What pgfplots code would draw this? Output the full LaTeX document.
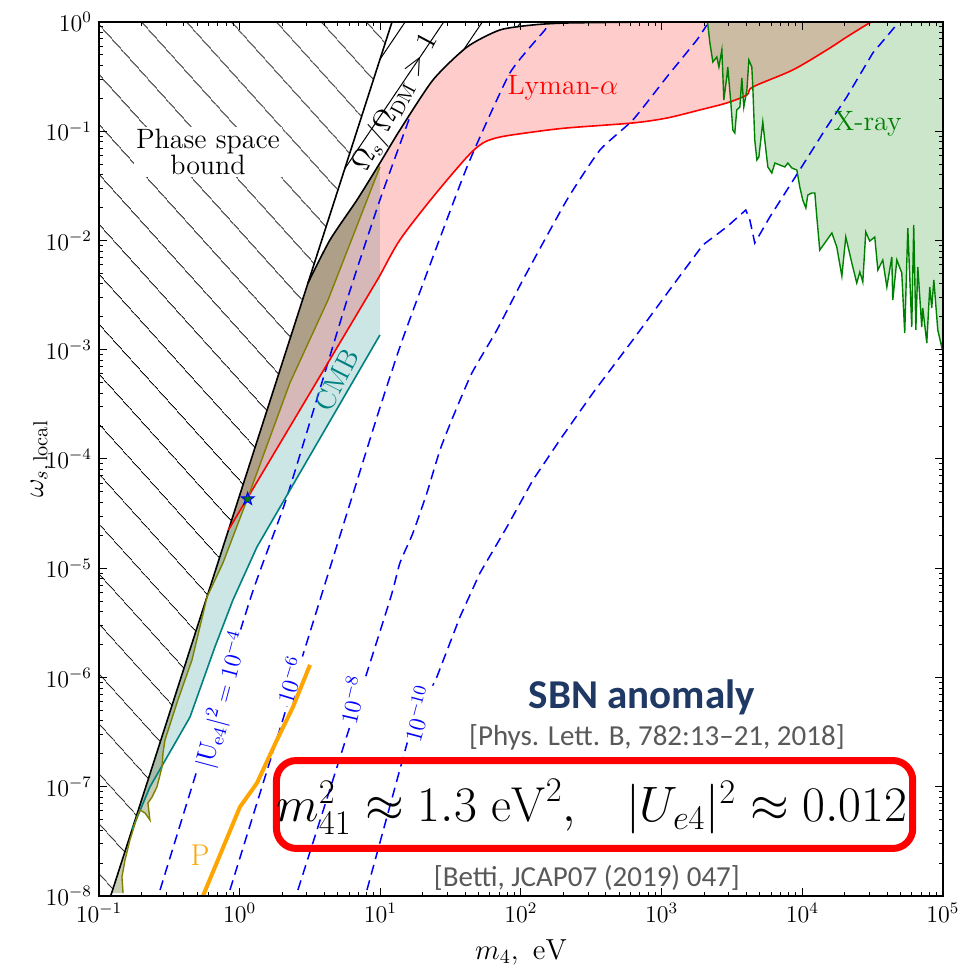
\documentclass[border=0pt]{standalone}
\usepackage{fontspec}
\newfontfamily\carlito{Carlito}
\usepackage{pgfplots}
\pgfplotsset{compat=1.18}
\usetikzlibrary{patterns.meta}
\definecolor{mplgreen}{RGB}{0,128,0}
\definecolor{mplteal}{RGB}{0,128,128}
\definecolor{mplolive}{RGB}{100,115,50}
\definecolor{mplolive2}{RGB}{128,128,0}
\definecolor{mplorange}{RGB}{255,165,0}
\definecolor{sbnnavy}{RGB}{31,56,100}
\definecolor{refgray}{RGB}{89,89,89}
\pgfdeclareplotmark{fstar}{%
  \pgfpathmoveto{\pgfpointpolar{90}{\pgfplotmarksize}}%
  \pgfpathlineto{\pgfpointpolar{126}{0.4\pgfplotmarksize}}%
  \pgfpathlineto{\pgfpointpolar{162}{\pgfplotmarksize}}%
  \pgfpathlineto{\pgfpointpolar{198}{0.4\pgfplotmarksize}}%
  \pgfpathlineto{\pgfpointpolar{234}{\pgfplotmarksize}}%
  \pgfpathlineto{\pgfpointpolar{270}{0.4\pgfplotmarksize}}%
  \pgfpathlineto{\pgfpointpolar{306}{\pgfplotmarksize}}%
  \pgfpathlineto{\pgfpointpolar{342}{0.4\pgfplotmarksize}}%
  \pgfpathlineto{\pgfpointpolar{18}{\pgfplotmarksize}}%
  \pgfpathlineto{\pgfpointpolar{54}{0.4\pgfplotmarksize}}%
  \pgfpathclose\pgfusepathqfillstroke}
\begin{document}
\begin{tikzpicture}
\begin{axis}[
  at={(0,0)}, anchor=south west,
  scale only axis, width=422pt, height=437pt,
  xmin=-1, xmax=5, ymin=-8, ymax=0,
  xtick={-1,0,1,2,3,4,5},
  xticklabels={$10^{-1}$,$10^{0}$,$10^{1}$,$10^{2}$,$10^{3}$,$10^{4}$,$10^{5}$},
  ytick={-8,-7,-6,-5,-4,-3,-2,-1,0},
  yticklabels={$10^{-8}$,$10^{-7}$,$10^{-6}$,$10^{-5}$,$10^{-4}$,$10^{-3}$,$10^{-2}$,$10^{-1}$,$10^{0}$},
  minor xtick={-0.69897,-0.52288,-0.39794,-0.30103,-0.22185,-0.15490,-0.09691,-0.04576,
    0.30103,0.47712,0.60206,0.69897,0.77815,0.84510,0.90309,0.95424,
    1.30103,1.47712,1.60206,1.69897,1.77815,1.84510,1.90309,1.95424,
    2.30103,2.47712,2.60206,2.69897,2.77815,2.84510,2.90309,2.95424,
    3.30103,3.47712,3.60206,3.69897,3.77815,3.84510,3.90309,3.95424,
    4.30103,4.47712,4.60206,4.69897,4.77815,4.84510,4.90309,4.95424},
  minor ytick={-7.69897,-7.52288,-7.39794,-7.30103,-7.22185,-7.15490,-7.09691,-7.04576,
    -6.69897,-6.52288,-6.39794,-6.30103,-6.22185,-6.15490,-6.09691,-6.04576,
    -5.69897,-5.52288,-5.39794,-5.30103,-5.22185,-5.15490,-5.09691,-5.04576,
    -4.69897,-4.52288,-4.39794,-4.30103,-4.22185,-4.15490,-4.09691,-4.04576,
    -3.69897,-3.52288,-3.39794,-3.30103,-3.22185,-3.15490,-3.09691,-3.04576,
    -2.69897,-2.52288,-2.39794,-2.30103,-2.22185,-2.15490,-2.09691,-2.04576,
    -1.69897,-1.52288,-1.39794,-1.30103,-1.22185,-1.15490,-1.09691,-1.04576,
    -0.69897,-0.52288,-0.39794,-0.30103,-0.22185,-0.15490,-0.09691,-0.04576},
  tick align=inside, tick pos=both,
  major tick length=4pt, minor tick length=2pt,
  every tick/.style={black, line width=0.5pt},
  axis line style={black, line width=0.7pt},
  ticklabel style={font=\fontsize{12}{14}\selectfont},
  xlabel={$m_4,\ \mathrm{eV}$},
  ylabel={$\omega_{s,\,\mathrm{local}}$},
  label style={font=\fontsize{14.5}{16}\selectfont},
  xlabel style={at={([yshift=-28pt]axis description cs:0.5,0)}, anchor=center},
  ylabel style={at={([xshift=-29pt]axis description cs:0,0.5)}, anchor=center},
  clip=false, axis on top,
]
% ---- phase space bound (hatched) ----
\addplot[draw=none, pattern={Lines[angle=-48,distance=17pt,line width=0.5pt]}, pattern color=black]
  coordinates {(-1,-8) (-0.917,-8) (1.083,0) (-1,0)} -- cycle;
% ---- Omega_s/Omega_DM > 1 (hatched) ----
\addplot[draw=none, pattern={Lines[angle=56,distance=16pt,line width=0.5pt]}, pattern color=black]
  coordinates {(0.486,-2.389) (1.083,0) (2.916,0) (2.326,-0.009) (2.085,-0.027) (1.850,-0.073)
   (1.616,-0.229) (1.374,-0.531) (1.139,-0.989) (0.997,-1.291) (0.834,-1.629) (0.642,-1.995)} -- cycle;
% ---- CMB (teal) ----
\addplot[draw=none, fill=mplteal, fill opacity=0.2]
  coordinates {(-0.766,-7.396) (-0.638,-7.002) (-0.353,-6.362) (-0.176,-5.721) (-0.048,-5.291)
   (0.123,-4.805) (0.997,-2.865) (0.997,-1.291) (0.834,-1.629) (0.642,-1.995) (0.486,-2.389)} -- cycle;
% ---- Lyman-alpha (red) ----
\addplot[draw=none, fill=red, fill opacity=0.2]
  coordinates {(-0.080,-4.650) (0.905,-2.52) (0.997,-2.32) (1.139,-1.995) (1.374,-1.602) (1.616,-1.236)
   (1.729,-1.108) (1.850,-1.053) (2.085,-1.007) (2.326,-0.970) (2.795,-0.924) (3.037,-0.879)
   (3.271,-0.805) (3.463,-0.741) (3.606,-0.668) (3.648,-0.595) (3.932,-0.439) (4.174,-0.256)
   (4.316,-0.137) (4.465,-0.018) (4.494,0) (2.916,0) (2.326,-0.009) (2.085,-0.027) (1.850,-0.073)
   (1.616,-0.229) (1.374,-0.531) (1.139,-0.989) (0.997,-1.291) (0.834,-1.629) (0.642,-1.995)
   (0.486,-2.389)} -- cycle;
% ---- olive region ----
\addplot[draw=none, fill=mplolive, fill opacity=0.35]
  coordinates {(-0.910,-7.973) (-0.829,-7.973) (-0.837,-7.826) (-0.815,-7.670) (-0.780,-7.487)
   (-0.758,-7.396) (-0.730,-7.277) (-0.709,-7.213) (-0.673,-7.240) (-0.638,-7.304) (-0.652,-7.149)
   (-0.623,-7.094) (-0.588,-7.002) (-0.552,-6.819) (-0.545,-6.691) (-0.531,-6.572) (-0.439,-6.206)
   (-0.339,-5.840) (-0.232,-5.263) (-0.119,-4.952) (0.052,-4.375) (0.357,-3.304) (0.628,-2.545)
   (0.997,-1.327) (0.997,-1.291) (0.834,-1.629) (0.642,-1.995) (0.486,-2.389)} -- cycle;
% ---- X-ray (green) ----
\addplot[draw=none, fill=mplgreen, fill opacity=0.2]
  coordinates {(3.326,0) (3.343,-0.192) (3.364,-0.366) (3.392,-0.320) (3.407,-0.412) (3.428,-0.256)
   (3.442,-0.714) (3.463,-0.503) (3.470,-0.412) (3.492,-0.741) (3.506,-0.989) (3.520,-1.016)
   (3.534,-0.805) (3.556,-0.778) (3.570,-0.513) (3.584,-0.778) (3.606,-0.622) (3.620,-0.348)
   (3.641,-0.412) (3.648,-0.595) (3.662,-1.080) (3.677,-1.263) (3.691,-1.236) (3.719,-0.915)
   (3.733,-1.080) (3.755,-1.327) (3.783,-1.382) (3.805,-1.291) (3.840,-1.309) (3.876,-1.327)
   (3.897,-1.291) (3.925,-1.336) (3.961,-1.355) (3.982,-1.510) (4.003,-1.629) (4.025,-1.702)
   (4.039,-1.584) (4.067,-1.565) (4.089,-1.565) (4.103,-1.785) (4.124,-2.087) (4.160,-2.023)
   (4.210,-1.931) (4.245,-2.059) (4.281,-2.325) (4.309,-1.968) (4.352,-2.206) (4.387,-2.389)
   (4.409,-2.288) (4.430,-2.380) (4.451,-1.922) (4.479,-2.005) (4.515,-1.968) (4.537,-2.270)
   (4.572,-2.179) (4.601,-2.426) (4.636,-2.151) (4.643,-2.545) (4.672,-2.178) (4.707,-2.297)
   (4.728,-2.847) (4.750,-1.886) (4.778,-2.792) (4.792,-1.858) (4.807,-2.819) (4.821,-2.243)
   (4.849,-2.792) (4.856,-2.618) (4.885,-2.938) (4.906,-2.426) (4.920,-2.618) (4.935,-2.362)
   (4.963,-2.819) (4.991,-2.975) (5.0,-2.91) (5.0,0)} -- cycle;
% ---- dashed |U_e4|^2 contours ----
\addplot[blue, line width=0.75pt, dash pattern=on 5pt off 3pt, smooth, tension=0.3]
  coordinates {(-0.566,-7.945) (0.073,-5.291) (0.336,-4.348) (0.763,-2.545) (0.997,-1.629) (1.210,-0.870)};
\addplot[blue, line width=0.75pt, dash pattern=on 5pt off 3pt, smooth, tension=0.3]
  coordinates {(-0.069,-7.945) (0.571,-5.291) (0.976,-3.616) (1.139,-2.975) (1.260,-2.545)
   (1.616,-1.327) (1.921,-0.467) (2.170,-0.073) (2.205,0)};
\addplot[blue, line width=0.75pt, dash pattern=on 5pt off 3pt, smooth, tension=0.3]
  coordinates {(0.414,-7.945) (0.692,-6.819) (1.068,-5.291) (1.139,-4.952) (1.232,-4.677)
   (1.331,-4.311) (1.424,-3.918) (1.516,-3.616) (1.651,-3.213) (1.829,-2.819) (2.013,-2.362)
   (2.326,-1.629) (2.561,-1.172) (2.795,-0.897) (3.037,-0.503) (3.250,-0.165) (3.321,-0.027)};
\addplot[blue, line width=0.75pt, dash pattern=on 5pt off 3pt]
  coordinates {(0.905,-7.945) (1.210,-6.508) (1.402,-5.995) (1.566,-5.446) (1.708,-5.044)
   (1.900,-4.622) (2.085,-4.192) (2.276,-3.826) (2.511,-3.396) (2.795,-2.911) (3.108,-2.362)
   (3.293,-2.041) (3.463,-1.876) (3.598,-1.721) (3.627,-1.812) (3.662,-2.023) (3.769,-1.785)
   (3.968,-1.382) (4.174,-0.961) (4.316,-0.686) (4.501,-0.284) (4.657,-0.046) (4.686,0)};
% ---- boundary lines ----
\addplot[black, line width=0.8pt] coordinates {(-0.917,-8) (1.083,0)};
\addplot[black, line width=0.8pt, smooth, tension=0.4]
  coordinates {(0.486,-2.389) (0.642,-1.995) (0.834,-1.629) (0.997,-1.291) (1.139,-0.989)
   (1.374,-0.531) (1.616,-0.229) (1.850,-0.073) (2.085,-0.027) (2.326,-0.009) (2.916,0)};
\addplot[mplteal, line width=0.8pt]
  coordinates {(-0.766,-7.396) (-0.638,-7.002) (-0.353,-6.362) (-0.176,-5.721) (-0.048,-5.291)
   (0.123,-4.805) (0.997,-2.865)};
\addplot[red, line width=0.8pt, smooth, tension=0.5]
  coordinates {(-0.080,-4.650) (0.905,-2.52) (0.997,-2.32) (1.139,-1.995) (1.374,-1.602) (1.616,-1.236)
   (1.729,-1.108) (1.850,-1.053) (2.085,-1.007) (2.326,-0.970) (2.795,-0.924) (3.037,-0.879)
   (3.271,-0.805) (3.463,-0.741) (3.606,-0.668) (3.648,-0.595) (3.932,-0.439) (4.174,-0.256)
   (4.316,-0.137) (4.465,-0.018) (4.494,0)};
\addplot[mplolive2, line width=0.7pt]
  coordinates {(-0.829,-7.973) (-0.837,-7.826) (-0.815,-7.670) (-0.780,-7.487)
   (-0.758,-7.396) (-0.730,-7.277) (-0.709,-7.213) (-0.673,-7.240) (-0.638,-7.304) (-0.652,-7.149)
   (-0.623,-7.094) (-0.588,-7.002) (-0.552,-6.819) (-0.545,-6.691) (-0.531,-6.572) (-0.439,-6.206)
   (-0.339,-5.840) (-0.232,-5.263) (-0.119,-4.952) (0.052,-4.375) (0.357,-3.304) (0.628,-2.545)
   (0.997,-1.327)};
\addplot[mplgreen, line width=0.7pt]
  coordinates {(3.326,0) (3.343,-0.192) (3.364,-0.366) (3.392,-0.320) (3.407,-0.412) (3.428,-0.256)
   (3.442,-0.714) (3.463,-0.503) (3.470,-0.412) (3.492,-0.741) (3.506,-0.989) (3.520,-1.016)
   (3.534,-0.805) (3.556,-0.778) (3.570,-0.513) (3.584,-0.778) (3.606,-0.622) (3.620,-0.348)
   (3.641,-0.412) (3.648,-0.595) (3.662,-1.080) (3.677,-1.263) (3.691,-1.236) (3.719,-0.915)
   (3.733,-1.080) (3.755,-1.327) (3.783,-1.382) (3.805,-1.291) (3.840,-1.309) (3.876,-1.327)
   (3.897,-1.291) (3.925,-1.336) (3.961,-1.355) (3.982,-1.510) (4.003,-1.629) (4.025,-1.702)
   (4.039,-1.584) (4.067,-1.565) (4.089,-1.565) (4.103,-1.785) (4.124,-2.087) (4.160,-2.023)
   (4.210,-1.931) (4.245,-2.059) (4.281,-2.325) (4.309,-1.968) (4.352,-2.206) (4.387,-2.389)
   (4.409,-2.288) (4.430,-2.380) (4.451,-1.922) (4.479,-2.005) (4.515,-1.968) (4.537,-2.270)
   (4.572,-2.179) (4.601,-2.426) (4.636,-2.151) (4.643,-2.545) (4.672,-2.178) (4.707,-2.297)
   (4.728,-2.847) (4.750,-1.886) (4.778,-2.792) (4.792,-1.858) (4.807,-2.819) (4.821,-2.243)
   (4.849,-2.792) (4.856,-2.618) (4.885,-2.938) (4.906,-2.426) (4.920,-2.618) (4.935,-2.362)
   (4.963,-2.819) (4.991,-2.975) (5.0,-2.91)};
% ---- labels ----
\node[font=\fontsize{14}{13}\selectfont, align=center, fill=white, inner sep=1pt] at (axis cs:-0.2253,-1.19) {Phase space\\bound};
\node[font=\fontsize{14}{16}\selectfont, rotate=62] at (axis cs:1.11,-0.74) {$\Omega_s/\Omega_{\mathrm{DM}} > 1$};
\node[font=\fontsize{14}{16}\selectfont, text=red] at (axis cs:2.298,-0.604) {Lyman-$\alpha$};
\node[font=\fontsize{14}{16}\selectfont, text=mplgreen] at (axis cs:4.465,-0.934) {X-ray};
\node[font=\fontsize{14}{16}\selectfont, text=mplteal, rotate=63] at (axis cs:0.692,-3.277) {CMB};
\node[font=\fontsize{13}{15}\selectfont, text=blue, rotate=75, fill=white, inner sep=1pt] at (axis cs:-0.119,-6.206) {$|\mathrm{U_{e4}}|^2 = 10^{-4}$};
\node[font=\fontsize{13}{15}\selectfont, text=blue, rotate=73, fill=white, inner sep=1pt] at (axis cs:0.357,-6.023) {$10^{-6}$};
\node[font=\fontsize{13}{15}\selectfont, text=blue, rotate=77, fill=white, inner sep=1pt] at (axis cs:0.798,-6.206) {$10^{-8}$};
\node[font=\fontsize{13}{15}\selectfont, text=blue, rotate=75, fill=white, inner sep=1pt] at (axis cs:1.267,-6.33) {$10^{-10}$};
\node[font=\fontsize{15}{17}\selectfont, text=mplorange] at (axis cs:-0.282,-7.625) {P};
% ---- P line and star ----
\addplot[mplorange, line width=2pt]
  coordinates {(-0.261,-8.0) (0.002,-7.185) (0.123,-6.966) (0.265,-6.572) (0.379,-6.270) (0.500,-5.885)};
\addplot[only marks, mark=fstar, mark size=3.3pt, mark options={fill=mplgreen, draw=blue, line width=0.5pt}]
  coordinates {(0.057,-4.366)};
% ---- SBN annotation ----
\node[font=\carlito\bfseries\fontsize{20.5}{22}\selectfont, text=sbnnavy] at (axis cs:2.859,-6.178) {SBN anomaly};
\node[font=\carlito\fontsize{14.5}{16}\selectfont, text=refgray] at (axis cs:2.966,-6.545) {[Phys. Lett. B, 782:13–21, 2018]};
\draw[red, line width=3.5pt, rounded corners=10pt] (axis cs:0.2616,-7.565) rectangle (axis cs:4.785,-6.760);
\node[font=\fontsize{24.5}{28}\selectfont] at (axis cs:2.504,-7.185) {$m_{41}^2 \approx 1.3\ \mathrm{eV}^2,\hspace{0.85em}|U_{e4}|^2 \approx 0.012$};
\node[font=\carlito\fontsize{14.5}{16}\selectfont, text=refgray] at (axis cs:2.468,-7.835) {[Betti, JCAP07 (2019) 047]};
\end{axis}
\pgfresetboundingbox
\path[use as bounding box] (-49.5pt,-35pt) rectangle (432.5pt,448pt);
\end{tikzpicture}
\end{document}
